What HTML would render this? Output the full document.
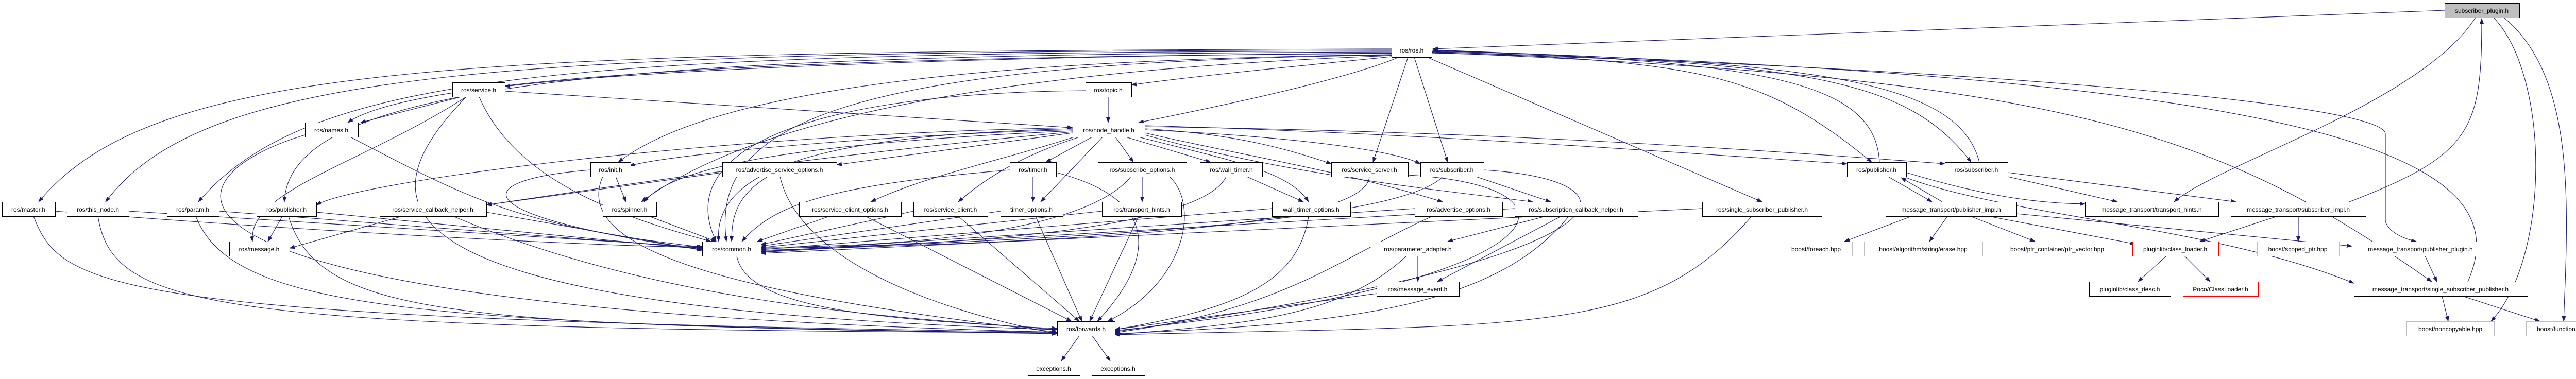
<!DOCTYPE html>
<html><head><meta charset="utf-8"><style>
html,body{margin:0;padding:0;background:#fff;}
svg{display:block;}
text{font-family:"Liberation Sans",sans-serif;font-size:12px;fill:#000;}
.e{fill:none;stroke:#191970;stroke-width:1.1;marker-end:url(#a);}
.n{fill:#fff;stroke:#000;stroke-width:1;}
.g{fill:#fff;stroke:#bfbfbf;stroke-width:1;}
.r{fill:#fff;stroke:#ff0000;stroke-width:1;}
</style></head><body>
<svg width="5051" height="736" viewBox="0 0 5051 736" xmlns="http://www.w3.org/2000/svg">
<defs><marker id="a" markerWidth="11" markerHeight="8" refX="10" refY="4" orient="auto" markerUnits="userSpaceOnUse"><polygon points="0,0 11,4 0,8" fill="#191970"/></marker></defs>
<g>
<path class="e" d="M2701,95 C900,100 300,120 75,392"/>
<path class="e" d="M2701,97 C1000,100 400,130 205,392"/>
<path class="e" d="M2701,99 C1100,102 600,140 385,392"/>
<path class="e" d="M2701,101 C1200,105 560,160 552,392"/>
<path class="e" d="M2701,103 C1800,110 1200,140 980,168"/>
<path class="e" d="M2701,104 C1500,110 800,150 675,238"/>
<path class="e" d="M2701,106 C2000,115 1400,160 1200,315"/>
<path class="e" d="M2701,108 C2100,130 1500,200 1245,392"/>
<path class="e" d="M2701,110 C2500,130 2300,150 2196,165"/>
<path class="e" d="M2715,111 C2600,160 2300,220 2210,238"/>
<path class="e" d="M2701,107 C1600,120 1380,250 1410,469"/>
<path class="e" d="M2733,111 L2665,315"/>
<path class="e" d="M2745,111 L2810,315"/>
<path class="e" d="M2770,111 L3420,392"/>
<path class="e" d="M2779,100 C3300,120 3420,140 3633,315"/>
<path class="e" d="M2779,101 C3500,120 3700,150 3826,315"/>
<path class="e" d="M2779,102 C4000,150 4300,250 4720,547"/>
<path class="e" d="M2779,103 C3800,130 4630,200 4630,260 L4630,430 C4640,460 4690,469 4690,469"/>
<path class="e" d="M3648,315 C3640,150 3400,120 2781,97"/>
<path class="e" d="M3842,315 C3800,150 3500,120 2781,98"/>
<path class="e" d="M4790,547 C4900,300 4500,150 2781,99"/>
<path class="e" d="M4745,20 L2781,95"/>
<path class="e" d="M4805,34 C4700,200 4300,320 4220,392"/>
<path class="e" d="M4840,34 C4950,150 4950,500 4835,624"/>
<path class="e" d="M4860,34 C5000,150 4985,400 4976,624"/>
<path class="e" d="M4560,392 C4800,300 4817,250 4817,36"/>
<path class="e" d="M2082,258 L1624,320"/>
<path class="e" d="M2120,266 L2030,315"/>
<path class="e" d="M2140,266 L2020,392"/>
<path class="e" d="M2165,266 L2200,315"/>
<path class="e" d="M2185,266 L2350,315"/>
<path class="e" d="M2210,266 C2380,310 2500,330 2540,392"/>
<path class="e" d="M2085,266 C1950,310 1800,340 1690,392"/>
<path class="e" d="M2095,266 C1990,300 1920,340 1860,392"/>
<path class="e" d="M2082,250 C1700,260 1380,300 1395,469"/>
<path class="e" d="M2082,252 C1700,262 1300,300 1222,322"/>
<path class="e" d="M2082,254 C1500,280 1300,330 1250,392"/>
<path class="e" d="M2082,248 C1400,260 700,350 614,398"/>
<path class="e" d="M2082,256 C1600,300 1200,360 944,398"/>
<path class="e" d="M2222,250 C2400,260 2500,290 2584,318"/>
<path class="e" d="M2222,252 C2500,265 2700,290 2757,318"/>
<path class="e" d="M2222,258 C2400,300 2600,330 2800,392"/>
<path class="e" d="M2222,262 C2500,340 2800,370 2975,392"/>
<path class="e" d="M2222,244 C2800,260 3300,300 3585,318"/>
<path class="e" d="M2222,246 C2900,255 3400,290 3775,318"/>
<path class="e" d="M895,188 L700,238"/>
<path class="e" d="M980,177 L2082,248"/>
<path class="e" d="M905,188 C700,320 480,370 490,469"/>
<path class="e" d="M930,188 C1000,350 1200,420 1380,469"/>
<path class="e" d="M905,188 C700,400 700,600 2052,640"/>
<path class="e" d="M2151,188 L2151,238"/>
<path class="e" d="M2107,176 C1600,180 1300,280 1390,469"/>
<path class="e" d="M592,262 C300,350 200,600 2052,645"/>
<path class="e" d="M680,266 C900,380 1000,440 1365,480"/>
<path class="e" d="M1146,330 C900,350 900,420 1365,485"/>
<path class="e" d="M1195,343 L1215,392"/>
<path class="e" d="M1170,343 C1100,500 1500,580 2052,645"/>
<path class="e" d="M1402,335 L944,398"/>
<path class="e" d="M1490,343 C1430,380 1420,420 1420,469"/>
<path class="e" d="M1514,343 C1550,500 1800,600 2052,648"/>
<path class="e" d="M2005,343 L2005,392"/>
<path class="e" d="M1960,330 C1600,360 1500,400 1440,469"/>
<path class="e" d="M2050,335 C2300,400 2200,550 2130,624"/>
<path class="e" d="M2217,343 L2217,392"/>
<path class="e" d="M2195,343 C2100,460 1700,480 1477,480"/>
<path class="e" d="M2270,343 C2330,400 2300,550 2150,624"/>
<path class="e" d="M2420,343 L2530,392"/>
<path class="e" d="M2380,343 C2330,450 1800,480 1477,482"/>
<path class="e" d="M2658,343 C2650,450 2000,470 1477,486"/>
<path class="e" d="M2800,343 C2700,450 1800,470 1477,488"/>
<path class="e" d="M2865,343 L3010,392"/>
<path class="e" d="M2880,330 C3200,350 3200,500 2164,644"/>
<path class="e" d="M2733,340 C3100,360 3050,550 2164,642"/>
<path class="e" d="M1610,420 L1470,469"/>
<path class="e" d="M1680,420 L2080,624"/>
<path class="e" d="M1773,410 L1477,475"/>
<path class="e" d="M1860,420 L2095,624"/>
<path class="e" d="M1942,410 L1477,478"/>
<path class="e" d="M2010,420 L2100,624"/>
<path class="e" d="M2139,410 L1477,481"/>
<path class="e" d="M2210,420 L2115,624"/>
<path class="e" d="M2469,405 L1477,485"/>
<path class="e" d="M2540,420 C2520,550 2400,600 2164,640"/>
<path class="e" d="M2746,405 L1477,489"/>
<path class="e" d="M2780,420 C2600,500 2500,600 2164,646"/>
<path class="e" d="M3000,420 L2810,469"/>
<path class="e" d="M3030,420 L2790,547"/>
<path class="e" d="M3045,420 C2900,600 2600,630 2164,648"/>
<path class="e" d="M2940,405 L1477,490"/>
<path class="e" d="M3304,405 L1477,492"/>
<path class="e" d="M3400,420 C3200,650 3000,630 2164,650"/>
<path class="e" d="M2752,497 L2752,547"/>
<path class="e" d="M2730,497 C2600,620 2400,630 2164,650"/>
<path class="e" d="M2672,570 L2164,640"/>
<path class="e" d="M1430,497 C1450,600 1700,620 2052,638"/>
<path class="e" d="M107,410 C600,450 1200,480 1363,480"/>
<path class="e" d="M65,420 C120,560 200,620 2052,645"/>
<path class="e" d="M250,410 L1363,480"/>
<path class="e" d="M190,420 C220,600 400,640 2052,646"/>
<path class="e" d="M425,410 L1363,482"/>
<path class="e" d="M380,420 C450,600 800,630 2052,647"/>
<path class="e" d="M548,420 L520,469"/>
<path class="e" d="M614,412 L1363,484"/>
<path class="e" d="M560,420 C620,620 900,630 2052,648"/>
<path class="e" d="M780,420 L562,482"/>
<path class="e" d="M944,412 L1363,486"/>
<path class="e" d="M880,420 C1300,600 1800,620 2052,640"/>
<path class="e" d="M1260,420 L1390,469"/>
<path class="e" d="M2095,652 L2060,701"/>
<path class="e" d="M2120,652 L2155,701"/>
<path class="e" d="M3665,343 L3750,392"/>
<path class="e" d="M3770,392 L3690,345"/>
<path class="e" d="M3700,335 C3850,380 3950,395 4047,396"/>
<path class="e" d="M3897,343 L4110,392"/>
<path class="e" d="M3897,335 L4340,392"/>
<path class="e" d="M3710,420 L3580,469"/>
<path class="e" d="M3780,420 L3745,469"/>
<path class="e" d="M3825,420 L3950,469"/>
<path class="e" d="M3860,420 L4145,474"/>
<path class="e" d="M3914,415 L4565,478"/>
<path class="e" d="M4420,420 L4270,469"/>
<path class="e" d="M4461,420 L4461,469"/>
<path class="e" d="M4205,497 L4150,547"/>
<path class="e" d="M4240,497 L4290,547"/>
<path class="e" d="M4707,497 L4730,547"/>
<path class="e" d="M4740,575 L4752,624"/>
<path class="e" d="M4780,575 L4930,624"/>
<path class="e" d="M3700,345 C3900,420 4300,440 4569,550"/>
</g>
<g>
<rect class="n" x="4745.5" y="6.5" width="145" height="28" style="fill:#bfbfbf"/><text x="4817" y="25" text-anchor="middle">subscriber_plugin.h</text>
<rect class="n" x="2701.5" y="83.5" width="78" height="28"/><text x="2740" y="102" text-anchor="middle">ros/ros.h</text>
<rect class="n" x="878.5" y="160.5" width="102" height="28"/><text x="929" y="179" text-anchor="middle">ros/service.h</text>
<rect class="n" x="2107.5" y="160.5" width="89" height="28"/><text x="2151" y="179" text-anchor="middle">ros/topic.h</text>
<rect class="n" x="592.5" y="238.5" width="103" height="28"/><text x="643" y="257" text-anchor="middle">ros/names.h</text>
<rect class="n" x="2082.5" y="238.5" width="140" height="28"/><text x="2152" y="257" text-anchor="middle">ros/node_handle.h</text>
<rect class="n" x="1146.5" y="315.5" width="78" height="28"/><text x="1185" y="334" text-anchor="middle">ros/init.h</text>
<rect class="n" x="1402.5" y="315.5" width="222" height="28"/><text x="1513" y="334" text-anchor="middle">ros/advertise_service_options.h</text>
<rect class="n" x="1960.5" y="315.5" width="90" height="28"/><text x="2005" y="334" text-anchor="middle">ros/timer.h</text>
<rect class="n" x="2131.5" y="315.5" width="172" height="28"/><text x="2217" y="334" text-anchor="middle">ros/subscribe_options.h</text>
<rect class="n" x="2329.5" y="315.5" width="121" height="28"/><text x="2390" y="334" text-anchor="middle">ros/wall_timer.h</text>
<rect class="n" x="2584.5" y="315.5" width="149" height="28"/><text x="2658" y="334" text-anchor="middle">ros/service_server.h</text>
<rect class="n" x="2757.5" y="315.5" width="123" height="28"/><text x="2818" y="334" text-anchor="middle">ros/subscriber.h</text>
<rect class="n" x="3585.5" y="315.5" width="115" height="28"/><text x="3642" y="334" text-anchor="middle">ros/publisher.h</text>
<rect class="n" x="3775.5" y="315.5" width="122" height="28"/><text x="3836" y="334" text-anchor="middle">ros/subscriber.h</text>
<rect class="n" x="4.5" y="392.5" width="103" height="28"/><text x="55" y="411" text-anchor="middle">ros/master.h</text>
<rect class="n" x="130.5" y="392.5" width="120" height="28"/><text x="190" y="411" text-anchor="middle">ros/this_node.h</text>
<rect class="n" x="324.5" y="392.5" width="101" height="28"/><text x="374" y="411" text-anchor="middle">ros/param.h</text>
<rect class="n" x="498.5" y="392.5" width="116" height="28"/><text x="556" y="411" text-anchor="middle">ros/publisher.h</text>
<rect class="n" x="737.5" y="392.5" width="207" height="28"/><text x="840" y="411" text-anchor="middle">ros/service_callback_helper.h</text>
<rect class="n" x="1170.5" y="392.5" width="104" height="28"/><text x="1222" y="411" text-anchor="middle">ros/spinner.h</text>
<rect class="n" x="1551.5" y="392.5" width="198" height="28"/><text x="1650" y="411" text-anchor="middle">ros/service_client_options.h</text>
<rect class="n" x="1773.5" y="392.5" width="144" height="28"/><text x="1845" y="411" text-anchor="middle">ros/service_client.h</text>
<rect class="n" x="1942.5" y="392.5" width="121" height="28"/><text x="2002" y="411" text-anchor="middle">timer_options.h</text>
<rect class="n" x="2139.5" y="392.5" width="154" height="28"/><text x="2216" y="411" text-anchor="middle">ros/transport_hints.h</text>
<rect class="n" x="2469.5" y="392.5" width="152" height="28"/><text x="2545" y="411" text-anchor="middle">wall_timer_options.h</text>
<rect class="n" x="2746.5" y="392.5" width="170" height="28"/><text x="2831" y="411" text-anchor="middle">ros/advertise_options.h</text>
<rect class="n" x="2940.5" y="392.5" width="239" height="28"/><text x="3059" y="411" text-anchor="middle">ros/subscription_callback_helper.h</text>
<rect class="n" x="3304.5" y="392.5" width="232" height="28"/><text x="3420" y="411" text-anchor="middle">ros/single_subscriber_publisher.h</text>
<rect class="n" x="3660.5" y="392.5" width="254" height="28"/><text x="3787" y="411" text-anchor="middle">message_transport/publisher_impl.h</text>
<rect class="n" x="4047.5" y="392.5" width="259" height="28"/><text x="4176" y="411" text-anchor="middle">message_transport/transport_hints.h</text>
<rect class="n" x="4330.5" y="392.5" width="262" height="28"/><text x="4461" y="411" text-anchor="middle">message_transport/subscriber_impl.h</text>
<rect class="n" x="445.5" y="469.5" width="117" height="28"/><text x="503" y="488" text-anchor="middle">ros/message.h</text>
<rect class="n" x="1363.5" y="469.5" width="114" height="28"/><text x="1420" y="488" text-anchor="middle">ros/common.h</text>
<rect class="n" x="2661.5" y="469.5" width="182" height="28"/><text x="2752" y="488" text-anchor="middle">ros/parameter_adapter.h</text>
<rect class="g" x="3456.5" y="469.5" width="139" height="28"/><text x="3525" y="488" text-anchor="middle">boost/foreach.hpp</text>
<rect class="g" x="3618.5" y="469.5" width="230" height="28"/><text x="3733" y="488" text-anchor="middle">boost/algorithm/string/erase.hpp</text>
<rect class="g" x="3872.5" y="469.5" width="242" height="28"/><text x="3993" y="488" text-anchor="middle">boost/ptr_container/ptr_vector.hpp</text>
<rect class="r" x="4139.5" y="469.5" width="167" height="28"/><text x="4222" y="488" text-anchor="middle">pluginlib/class_loader.h</text>
<rect class="g" x="4381.5" y="469.5" width="159" height="28"/><text x="4460" y="488" text-anchor="middle">boost/scoped_ptr.hpp</text>
<rect class="n" x="4565.5" y="469.5" width="266" height="28"/><text x="4698" y="488" text-anchor="middle">message_transport/publisher_plugin.h</text>
<rect class="n" x="2672.5" y="547.5" width="160" height="28"/><text x="2752" y="566" text-anchor="middle">ros/message_event.h</text>
<rect class="n" x="4055.5" y="547.5" width="158" height="28"/><text x="4134" y="566" text-anchor="middle">pluginlib/class_desc.h</text>
<rect class="r" x="4237.5" y="547.5" width="146" height="28"/><text x="4310" y="566" text-anchor="middle">Poco/ClassLoader.h</text>
<rect class="n" x="4569.5" y="547.5" width="337" height="28"/><text x="4737" y="566" text-anchor="middle">message_transport/single_subscriber_publisher.h</text>
<rect class="n" x="2052.5" y="624.5" width="112" height="28"/><text x="2108" y="643" text-anchor="middle">ros/forwards.h</text>
<rect class="g" x="4671.5" y="624.5" width="170" height="28"/><text x="4756" y="643" text-anchor="middle">boost/noncopyable.hpp</text>
<rect class="g" x="4903.5" y="624.5" width="141" height="28"/><text x="4973" y="643" text-anchor="middle">boost/function.hpp</text>
<rect class="n" x="1995.5" y="701.5" width="101" height="28"/><text x="2045" y="720" text-anchor="middle">exceptions.h</text>
<rect class="n" x="2119.5" y="701.5" width="103" height="28"/><text x="2170" y="720" text-anchor="middle">exceptions.h</text>
</g>
</svg>
</body></html>
